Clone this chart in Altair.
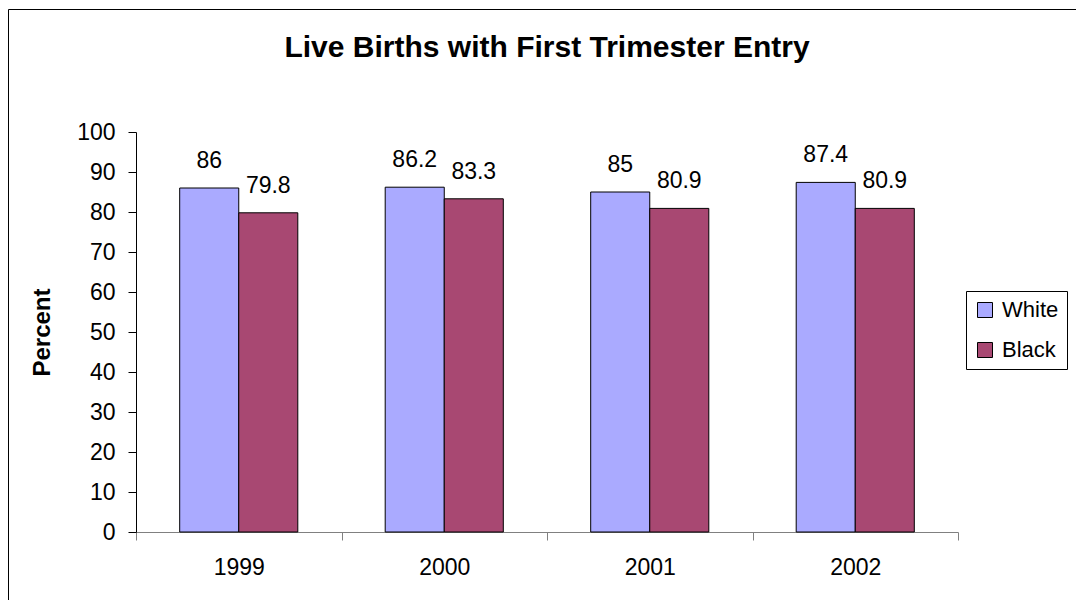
import altair as alt
import pandas as pd

years = ["1999", "2000", "2001", "2002"]
white = [86, 86.2, 85, 87.4]
black = [79.8, 83.3, 80.9, 80.9]
white_labels = ["86", "86.2", "85", "87.4"]
black_labels = ["79.8", "83.3", "80.9", "80.9"]
races = ["White", "Black"]
colors = ["#AAAAFF", "#A84872"]
y_ticks = list(range(0, 101, 10))
title_text = "Live Births with First Trimester Entry"

rows = []
for i, yr in enumerate(years):
    rows.append({"year": yr, "race": "White", "value": white[i], "label": white_labels[i]})
    rows.append({"year": yr, "race": "Black", "value": black[i], "label": black_labels[i]})
df = pd.DataFrame(rows)

FONT = "Liberation Sans"
W, H = 822, 400

x = alt.X("year:N", sort=years, title=None,
          scale=alt.Scale(paddingInner=0, paddingOuter=0),
          axis=alt.Axis(labelAngle=0, labelFontSize=23, labelColor="black", labelFont=FONT,
                        labelPadding=16, tickBand="extent", tickSize=8, tickColor="#808080",
                        domainColor="#808080", grid=False))
xo = alt.XOffset("race:N", sort=races, scale=alt.Scale(paddingOuter=0.74, paddingInner=0))
yaxis = alt.Axis(values=y_ticks, title="Percent", titleFontSize=24, titleFont=FONT,
                 titleFontWeight="bold", titleColor="black", titlePadding=22,
                 labelFontSize=23, labelFont=FONT, labelColor="black", labelPadding=13,
                 labelOverlap=False, tickSize=8, tickColor="black", domainColor="black",
                 grid=False)
y = alt.Y("value:Q", scale=alt.Scale(domain=[0, 100], nice=False), axis=yaxis)

bars = alt.Chart(df).mark_bar(stroke="black", strokeWidth=1).encode(
    x=x, xOffset=xo, y=y,
    color=alt.Color("race:N", sort=races, scale=alt.Scale(domain=races, range=colors),
                    legend=alt.Legend(title=None, orient="none", legendX=830, legendY=159,
                                      strokeColor="black", fillColor="white", padding=8,
                                      labelFontSize=22, labelFont=FONT, labelColor="black",
                                      symbolType="square", symbolSize=225, symbolStrokeColor="black",
                                      symbolStrokeWidth=1, rowPadding=18, labelOffset=6,
                                      symbolOffset=0))
)

texts = alt.Chart(df).mark_text(fontSize=23, font=FONT, color="black", dy=-20,
                                baseline="alphabetic").encode(
    x=x, xOffset=xo, y=y, text="label:N"
)

title = alt.Chart(pd.DataFrame({"t": [title_text]})).mark_text(
    fontSize=30, font=FONT, fontWeight="bold", color="black", baseline="alphabetic", align="center"
).encode(x=alt.value(W / 2), y=alt.value(-75), text="t:N")

border = alt.Chart(pd.DataFrame({"a": [0]})).mark_rect(
    fill=None, stroke="black", strokeWidth=1, clip=False
).encode(x=alt.value(-127.5), x2=alt.value(1200), y=alt.value(-122.5), y2=alt.value(800))

chart = alt.layer(border, bars, texts, title).properties(
    width=W, height=H,
    autosize=alt.AutoSizeParams(type="none"),
    padding={"left": 128, "top": 124, "right": 118, "bottom": 68},
).configure_view(stroke=None).configure_axisY(labelOverlap=False, values=y_ticks)

chart.save("out.html", embed_options={"renderer": "svg", "actions": False})
